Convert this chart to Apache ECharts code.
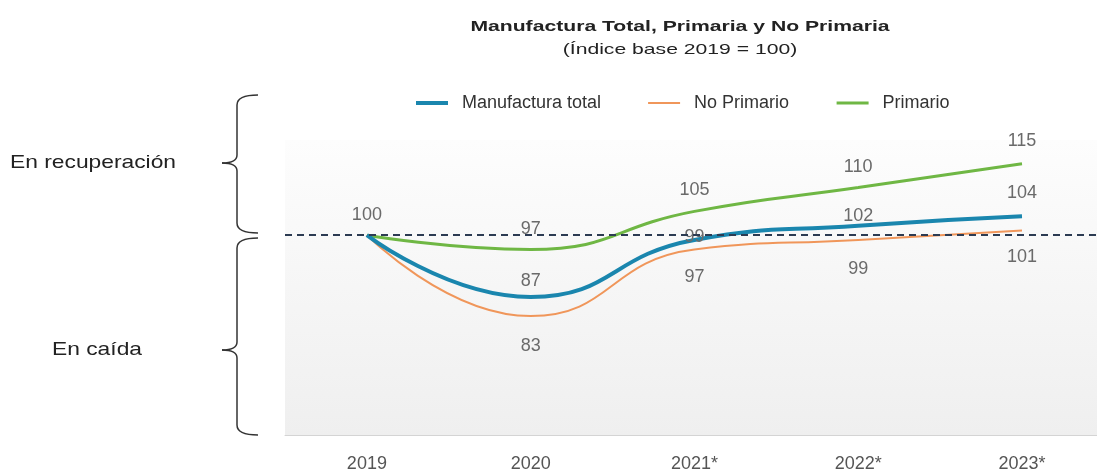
<!DOCTYPE html>
<html>
<head>
<meta charset="utf-8">
<script src="https://cdn.jsdelivr.net/npm/echarts@6/dist/echarts.min.js"></script>
<style>html,body{margin:0;padding:0;background:#fff}#c{width:1097px;height:473px}</style>
</head>
<body>
<div id="c"></div>
<script>
var categories = ['2019', '2020', '2021*', '2022*', '2023*'];
var manufacturaTotal = [100, 87, 99, 102, 104];
var noPrimario = [100, 83, 97, 99, 101];
var primario = [100, 97, 105, 110, 115];
var baseLine = 100;

// label placement per point: [position, distance, show]
var totalLabels = [['top', 0, false], ['top', 7, true], ['top', -6, true], ['top', 1, true], ['top', 14, true]];
var noPrimLabels = [['bottom', 0, false], ['bottom', 21, true], ['bottom', 19, true], ['bottom', 20, true], ['bottom', 18, true]];
var primLabels = [['top', 11, true], ['top', 11, true], ['top', 12, true], ['top', 12, true], ['top', 14, true]];

function withLabels(vals, cfg) {
  return vals.map(function (v, i) {
    return {
      value: [i, v],
      label: { show: cfg[i][2], position: cfg[i][0], distance: cfg[i][1] }
    };
  });
}

var FONT = '"Liberation Sans", Arial, sans-serif';
var chart = echarts.init(document.getElementById('c'), null, { renderer: 'canvas' });
var labelStyle = { color: '#6a6a6a', fontSize: 18, fontFamily: FONT };

function brace(x, y1, y2, ym) {
  var st = { fill: null, stroke: '#333', lineWidth: 1.5 };
  function q(ax, ay, cx, cy, bx, by) {
    return { type: 'bezierCurve', shape: { x1: ax, y1: ay, cpx1: cx, cpy1: cy, x2: bx, y2: by }, style: st };
  }
  function l(ax, ay, bx, by) {
    return { type: 'line', shape: { x1: ax, y1: ay, x2: bx, y2: by }, style: st };
  }
  return {
    type: 'group',
    children: [
      q(x + 21, y1, x, y1, x, y1 + 10),
      l(x, y1 + 10, x, ym - 8),
      q(x, ym - 8, x, ym, x - 15, ym),
      q(x - 15, ym, x, ym, x, ym + 8),
      l(x, ym + 8, x, y2 - 10),
      q(x, y2 - 10, x, y2, x + 21, y2)
    ]
  };
}

function stretchedText(txt, x, y, size, weight, sx, align) {
  return {
    type: 'text', x: x, y: y, scaleX: sx,
    style: {
      text: txt, x: 0, y: 0, align: align, verticalAlign: 'middle',
      fontSize: size, fontWeight: weight, fontFamily: FONT, fill: '#222'
    }
  };
}

chart.setOption({
  animation: false,
  legend: {
    top: 94, left: 414, padding: 0, itemWidth: 32, itemHeight: 14, itemGap: 46,
    itemStyle: { opacity: 0 },
    textStyle: { fontSize: 18, color: '#333', fontFamily: FONT, padding: [0, 0, 0, 9] },
    data: [
      { name: 'Manufactura total', lineStyle: { width: 4 } },
      { name: 'No Primario', lineStyle: { width: 2 } },
      { name: 'Primario', lineStyle: { width: 3 } }
    ]
  },
  grid: {
    left: 285, right: 0, top: 140, bottom: 38, show: true, borderWidth: 0,
    backgroundColor: {
      type: 'linear', x: 0, y: 0, x2: 0, y2: 1,
      colorStops: [{ offset: 0, color: '#fdfdfd' }, { offset: 1, color: '#efefef' }]
    }
  },
  xAxis: {
    type: 'value', min: -0.5, max: 4.458,
    splitLine: { show: false },
    axisLine: { show: true, onZero: false, lineStyle: { color: '#d4d4d4', width: 1 } },
    axisTick: { show: false },
    axisLabel: {
      color: '#555', fontSize: 18, margin: 20, fontFamily: FONT,
      customValues: [0, 1, 2, 3, 4],
      formatter: function (v) {
        return (Math.abs(v - Math.round(v)) < 1e-6 && categories[Math.round(v)]) ? categories[Math.round(v)] : '';
      }
    }
  },
  yAxis: {
    type: 'value', min: 58, max: 120, show: false, splitLine: { show: false }
  },
  graphic: [
    stretchedText('Manufactura Total, Primaria y No Primaria', 680, 27, 15, 'bold', 1.41, 'center'),
    stretchedText('(Índice base 2019 = 100)', 680, 50, 15, 'normal', 1.41, 'center'),
    brace(237, 95, 233, 163),
    brace(237, 238, 435, 350),
    stretchedText('En recuperación', 10, 163, 19, 'normal', 1.2, 'left'),
    stretchedText('En caída', 52, 350, 19, 'normal', 1.2, 'left')
  ],
  series: [
    {
      name: 'Primario', type: 'line', smooth: 0.5, symbol: 'circle', symbolSize: 0, z: 2,
      data: withLabels(primario, primLabels),
      lineStyle: { color: '#6fb744', width: 3 }, itemStyle: { color: '#6fb744' },
      label: labelStyle
    },
    {
      name: 'No Primario', type: 'line', smooth: 0.5, symbol: 'circle', symbolSize: 0, z: 3,
      data: withLabels(noPrimario, noPrimLabels),
      lineStyle: { color: '#f0965a', width: 2 }, itemStyle: { color: '#f0965a' },
      label: labelStyle
    },
    {
      name: 'Manufactura total', type: 'line', smooth: 0.5, symbol: 'circle', symbolSize: 0, z: 4,
      data: withLabels(manufacturaTotal, totalLabels),
      lineStyle: { color: '#1a86ae', width: 4 }, itemStyle: { color: '#1a86ae' },
      label: labelStyle,
      markLine: {
        silent: true, symbol: 'none', label: { show: false },
        lineStyle: { color: '#2c3b52', width: 2, type: [7, 5] },
        data: [{ yAxis: baseLine }]
      }
    }
  ]
});
</script>
</body>
</html>
